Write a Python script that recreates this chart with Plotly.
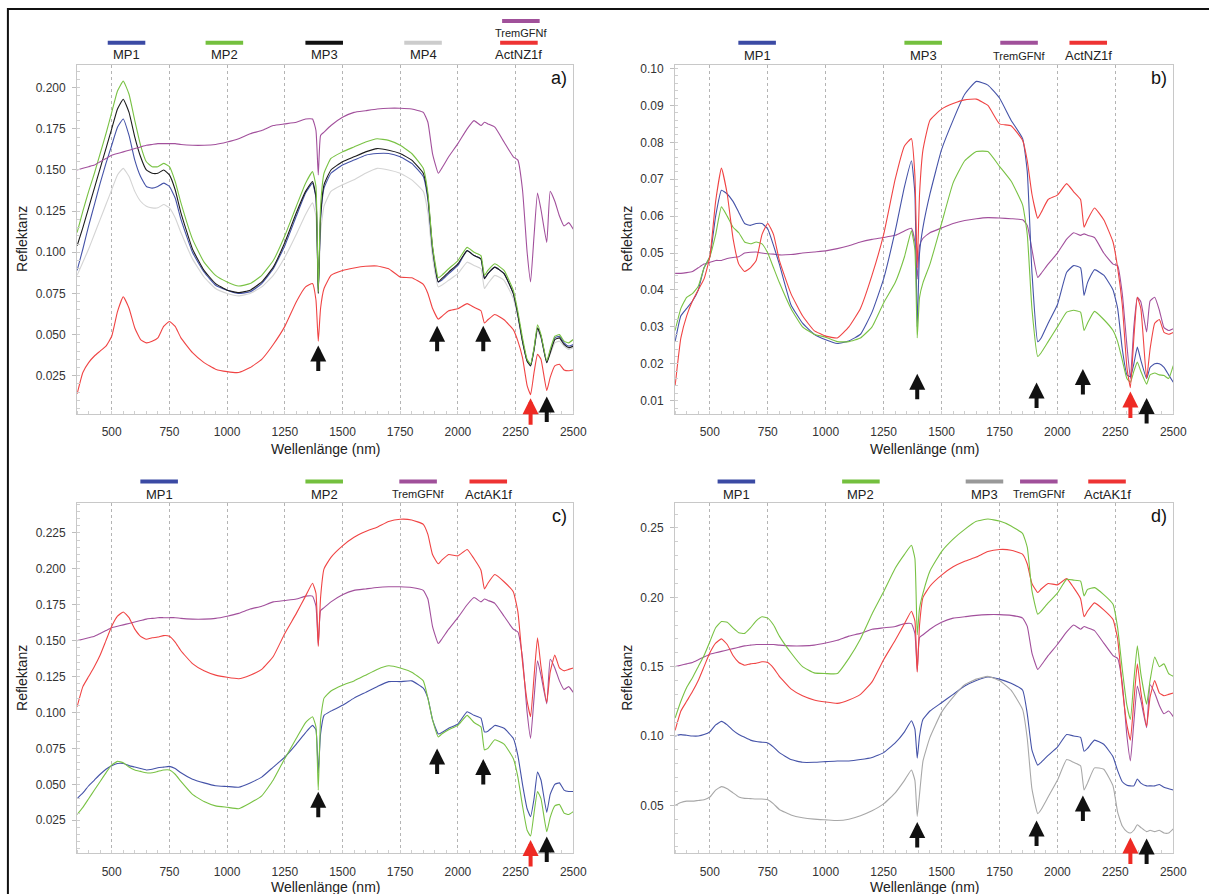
import plotly.graph_objects as go

W, H = 1209, 894

# Wavelength grid (nm) shared by all spectra
WL = [350, 375, 400, 425, 450, 475, 500, 525, 550, 575,
      600, 625, 650, 675, 700, 725, 750, 775, 800, 850,
      900, 950, 1000, 1050, 1100, 1150, 1200, 1250, 1300, 1340,
      1370, 1385, 1395, 1405, 1420, 1450, 1500, 1550, 1600, 1650,
      1700, 1750, 1800, 1850, 1870, 1890, 1915, 1930, 1960, 2000,
      2040, 2070, 2100, 2115, 2130, 2160, 2200, 2240, 2260, 2280,
      2300, 2315, 2330, 2345, 2360, 2385, 2400, 2420, 2440, 2460,
      2480, 2500]

# Reference spectra
TREM_GFNF = [0.150, 0.151, 0.152, 0.153, 0.155, 0.157, 0.159, 0.160, 0.161, 0.162,
             0.163, 0.164, 0.165, 0.1655, 0.166, 0.166, 0.166, 0.166, 0.1655, 0.165,
             0.165, 0.1655, 0.167, 0.169, 0.172, 0.174, 0.177, 0.178, 0.179, 0.181,
             0.181, 0.174, 0.147, 0.171, 0.173, 0.177, 0.182, 0.185, 0.186, 0.187,
             0.1875, 0.1875, 0.187, 0.185, 0.179, 0.160, 0.148, 0.151, 0.158, 0.166,
             0.175, 0.180, 0.177, 0.179, 0.178, 0.176, 0.167, 0.158, 0.156, 0.138,
             0.100, 0.082, 0.110, 0.136, 0.126, 0.106, 0.137, 0.131, 0.122, 0.116,
             0.118, 0.114]

ACT_NZ1F = [0.014, 0.027, 0.033, 0.037, 0.040, 0.043, 0.049, 0.064, 0.073, 0.066,
            0.054, 0.047, 0.045, 0.046, 0.048, 0.055, 0.058, 0.055, 0.048, 0.039,
            0.033, 0.029, 0.0275, 0.027, 0.030, 0.035, 0.044, 0.055, 0.070, 0.079,
            0.081, 0.071, 0.046, 0.066, 0.078, 0.086, 0.089, 0.0905, 0.0915, 0.0917,
            0.090, 0.085, 0.0845, 0.0805, 0.075, 0.066, 0.0594, 0.061, 0.0645, 0.0657,
            0.0688, 0.0666, 0.0645, 0.057, 0.059, 0.0622, 0.059, 0.053, 0.046, 0.036,
            0.019, 0.0135, 0.027, 0.038, 0.035, 0.016, 0.024, 0.031, 0.032, 0.0285,
            0.028, 0.0285]

ACT_AK1F = [0.104, 0.118, 0.125, 0.132, 0.140, 0.150, 0.160, 0.167, 0.170, 0.166,
            0.158, 0.153, 0.151, 0.152, 0.1525, 0.1535, 0.153, 0.149, 0.143, 0.134,
            0.129, 0.126, 0.1245, 0.1235, 0.126, 0.130, 0.139, 0.155, 0.169, 0.181,
            0.190, 0.183, 0.146, 0.180, 0.200, 0.208, 0.216, 0.222, 0.226, 0.229,
            0.233, 0.2345, 0.234, 0.231, 0.224, 0.210, 0.2035, 0.206, 0.210, 0.209,
            0.2135, 0.207, 0.199, 0.186, 0.190, 0.196, 0.191, 0.184, 0.170, 0.135,
            0.108, 0.097, 0.125, 0.152, 0.132, 0.107, 0.128, 0.140, 0.131, 0.129,
            0.130, 0.131]

# a) sample spectra
A_MP1 = [0.089, 0.102, 0.116, 0.129, 0.142, 0.154, 0.165, 0.176, 0.181, 0.171,
         0.156, 0.146, 0.140, 0.139, 0.140, 0.142, 0.140, 0.133, 0.120, 0.100,
         0.088, 0.080, 0.077, 0.075, 0.076, 0.081, 0.090, 0.104, 0.122, 0.136,
         0.142, 0.133, 0.076, 0.120, 0.139, 0.148, 0.153, 0.156, 0.159, 0.160,
         0.160, 0.158, 0.154, 0.146, 0.132, 0.102, 0.082, 0.083, 0.087, 0.092,
         0.101, 0.098, 0.096, 0.084, 0.087, 0.091, 0.087, 0.075, 0.062, 0.046,
         0.034, 0.031, 0.041, 0.054, 0.049, 0.033, 0.040, 0.048, 0.049, 0.045,
         0.043, 0.044]
A_MP2 = [0.112, 0.125, 0.137, 0.148, 0.160, 0.172, 0.185, 0.198, 0.204, 0.196,
         0.180, 0.165, 0.155, 0.152, 0.152, 0.154, 0.152, 0.143, 0.130, 0.108,
         0.094, 0.086, 0.082, 0.0795, 0.081, 0.086, 0.095, 0.110, 0.128, 0.142,
         0.149, 0.140, 0.076, 0.128, 0.148, 0.157, 0.161, 0.164, 0.167, 0.169,
         0.168, 0.165, 0.160, 0.151, 0.136, 0.104, 0.0845, 0.086, 0.090, 0.095,
         0.103, 0.100, 0.098, 0.086, 0.089, 0.093, 0.089, 0.077, 0.064, 0.048,
         0.035, 0.032, 0.042, 0.056, 0.050, 0.034, 0.041, 0.049, 0.050, 0.046,
         0.045, 0.047]
A_MP3 = [0.104, 0.115, 0.127, 0.139, 0.151, 0.163, 0.175, 0.187, 0.193, 0.185,
         0.170, 0.158, 0.150, 0.148, 0.148, 0.150, 0.147, 0.138, 0.124, 0.102,
         0.089, 0.081, 0.077, 0.0755, 0.077, 0.082, 0.091, 0.106, 0.124, 0.137,
         0.143, 0.134, 0.075, 0.122, 0.141, 0.150, 0.155, 0.158, 0.161, 0.163,
         0.162, 0.160, 0.156, 0.148, 0.134, 0.103, 0.082, 0.084, 0.088, 0.093,
         0.101, 0.098, 0.096, 0.084, 0.087, 0.091, 0.087, 0.075, 0.062, 0.046,
         0.034, 0.031, 0.041, 0.054, 0.049, 0.033, 0.039, 0.047, 0.048, 0.044,
         0.042, 0.043]
A_MP4 = [0.086, 0.094, 0.102, 0.111, 0.120, 0.129, 0.138, 0.147, 0.151, 0.146,
         0.137, 0.131, 0.128, 0.127, 0.127, 0.129, 0.127, 0.121, 0.112, 0.096,
         0.085, 0.078, 0.075, 0.0735, 0.075, 0.079, 0.086, 0.097, 0.111, 0.123,
         0.130, 0.122, 0.075, 0.112, 0.128, 0.137, 0.141, 0.144, 0.148, 0.151,
         0.150, 0.148, 0.144, 0.137, 0.124, 0.097, 0.079, 0.080, 0.083, 0.087,
         0.094, 0.092, 0.090, 0.078, 0.081, 0.086, 0.083, 0.072, 0.060, 0.045,
         0.034, 0.032, 0.040, 0.052, 0.048, 0.033, 0.038, 0.045, 0.046, 0.043,
         0.041, 0.042]

# b) sample spectra
B_MP1 = [0.026, 0.033, 0.035, 0.037, 0.040, 0.046, 0.049, 0.060, 0.067, 0.066,
         0.064, 0.061, 0.058, 0.0575, 0.058, 0.058, 0.0565, 0.052, 0.047, 0.036,
         0.031, 0.028, 0.0265, 0.0255, 0.0262, 0.028, 0.034, 0.043, 0.056, 0.068,
         0.075, 0.066, 0.030, 0.050, 0.057, 0.066, 0.078, 0.086, 0.093, 0.0965,
         0.0955, 0.092, 0.086, 0.081, 0.072, 0.045, 0.026, 0.027, 0.031, 0.036,
         0.0448, 0.0466, 0.046, 0.0385, 0.042, 0.0455, 0.044, 0.040, 0.035, 0.024,
         0.017, 0.0165, 0.020, 0.0245, 0.021, 0.016, 0.019, 0.020, 0.020, 0.019,
         0.017, 0.015]
B_MP3 = [0.029, 0.035, 0.038, 0.039, 0.041, 0.046, 0.049, 0.055, 0.0625, 0.060,
         0.057, 0.0555, 0.053, 0.0525, 0.053, 0.0525, 0.050, 0.046, 0.042, 0.035,
         0.030, 0.028, 0.0272, 0.026, 0.026, 0.027, 0.030, 0.0365, 0.042, 0.049,
         0.056, 0.051, 0.027, 0.038, 0.042, 0.047, 0.058, 0.069, 0.075, 0.0775,
         0.0775, 0.0735, 0.0695, 0.063, 0.055, 0.035, 0.022, 0.023, 0.026, 0.030,
         0.034, 0.0345, 0.034, 0.029, 0.031, 0.0342, 0.032, 0.029, 0.026, 0.021,
         0.016, 0.015, 0.018, 0.0205, 0.018, 0.0145, 0.017, 0.0175, 0.017, 0.0168,
         0.016, 0.0195]
B_TREM = [0.0445, 0.0445, 0.0447, 0.045, 0.046, 0.047, 0.0475, 0.048, 0.048, 0.0485,
          0.0488, 0.049, 0.050, 0.0502, 0.0503, 0.050, 0.0498, 0.0497, 0.0495, 0.0496,
          0.050, 0.0503, 0.0506, 0.0512, 0.052, 0.053, 0.0537, 0.0542, 0.0548, 0.056,
          0.0567, 0.053, 0.043, 0.052, 0.054, 0.0555, 0.0568, 0.058, 0.0588, 0.0593,
          0.0596, 0.0595, 0.0593, 0.059, 0.0575, 0.051, 0.0434, 0.0445, 0.047, 0.050,
          0.0538, 0.0555, 0.0548, 0.0552, 0.0548, 0.0542, 0.050, 0.047, 0.0466, 0.039,
          0.025, 0.016, 0.030, 0.038, 0.0368, 0.0286, 0.037, 0.038, 0.0345, 0.0298,
          0.029, 0.0295]

# c) sample spectra
C_MP1 = [0.040, 0.044, 0.049, 0.053, 0.057, 0.0605, 0.063, 0.0645, 0.0645, 0.063,
         0.062, 0.061, 0.060, 0.0605, 0.0615, 0.062, 0.0625, 0.061, 0.058, 0.0535,
         0.051, 0.049, 0.0485, 0.048, 0.051, 0.055, 0.062, 0.069, 0.078, 0.086,
         0.091, 0.088, 0.058, 0.085, 0.098, 0.101, 0.105, 0.110, 0.114, 0.118,
         0.1215, 0.1215, 0.122, 0.117, 0.110, 0.095, 0.085, 0.086, 0.089, 0.092,
         0.1005, 0.098, 0.096, 0.0865, 0.087, 0.091, 0.089, 0.082, 0.070, 0.050,
         0.033, 0.0275, 0.040, 0.0585, 0.053, 0.0305, 0.043, 0.050, 0.051, 0.046,
         0.045, 0.045]
C_MP2 = [0.029, 0.034, 0.040, 0.046, 0.052, 0.058, 0.0635, 0.066, 0.065, 0.062,
         0.060, 0.059, 0.058, 0.058, 0.059, 0.060, 0.060, 0.057, 0.052, 0.043,
         0.038, 0.035, 0.034, 0.033, 0.037, 0.042, 0.053, 0.068, 0.082, 0.093,
         0.097, 0.090, 0.046, 0.095, 0.110, 0.115, 0.119, 0.122, 0.126, 0.130,
         0.1325, 0.131, 0.128, 0.122, 0.110, 0.095, 0.083, 0.085, 0.088, 0.091,
         0.098, 0.093, 0.090, 0.074, 0.075, 0.081, 0.078, 0.068, 0.055, 0.035,
         0.018, 0.014, 0.030, 0.045, 0.040, 0.017, 0.027, 0.035, 0.036, 0.030,
         0.029, 0.031]

# d) sample spectra
D_MP1 = [0.100, 0.101, 0.1005, 0.100, 0.100, 0.101, 0.103, 0.108, 0.1105, 0.108,
         0.104, 0.101, 0.099, 0.097, 0.096, 0.0955, 0.095, 0.092, 0.088, 0.083,
         0.081, 0.081, 0.0815, 0.082, 0.082, 0.083, 0.0845, 0.088, 0.095, 0.103,
         0.111, 0.105, 0.084, 0.100, 0.112, 0.118, 0.124, 0.130, 0.136, 0.140,
         0.1425, 0.141, 0.138, 0.133, 0.116, 0.090, 0.079, 0.081, 0.086, 0.092,
         0.101, 0.100, 0.099, 0.089, 0.091, 0.097, 0.094, 0.085, 0.075, 0.067,
         0.0645, 0.064, 0.064, 0.069, 0.066, 0.064, 0.064, 0.064, 0.065, 0.063,
         0.062, 0.061]
D_MP2 = [0.113, 0.125, 0.135, 0.142, 0.150, 0.158, 0.168, 0.178, 0.1825, 0.182,
         0.178, 0.1745, 0.174, 0.178, 0.183, 0.186, 0.185, 0.180, 0.172, 0.160,
         0.150, 0.1455, 0.145, 0.145, 0.156, 0.170, 0.188, 0.204, 0.221, 0.231,
         0.2375, 0.228, 0.173, 0.192, 0.203, 0.219, 0.233, 0.242, 0.249, 0.2548,
         0.2565, 0.255, 0.2515, 0.246, 0.236, 0.205, 0.1878, 0.190, 0.196, 0.203,
         0.213, 0.2124, 0.2117, 0.201, 0.2057, 0.207, 0.202, 0.195, 0.178, 0.148,
         0.122, 0.112, 0.140, 0.165, 0.145, 0.123, 0.140, 0.157, 0.150, 0.152,
         0.145, 0.143]
D_MP3 = [0.050, 0.052, 0.053, 0.053, 0.0535, 0.054, 0.056, 0.061, 0.0635, 0.062,
         0.059, 0.056, 0.055, 0.0548, 0.0545, 0.0545, 0.054, 0.051, 0.047, 0.043,
         0.041, 0.040, 0.0395, 0.039, 0.040, 0.0425, 0.046, 0.051, 0.059, 0.068,
         0.0755, 0.068, 0.042, 0.058, 0.082, 0.099, 0.117, 0.128, 0.137, 0.141,
         0.143, 0.140, 0.133, 0.119, 0.098, 0.062, 0.044, 0.047, 0.056, 0.068,
         0.083, 0.081, 0.0785, 0.061, 0.066, 0.077, 0.076, 0.064, 0.045, 0.035,
         0.031, 0.030, 0.032, 0.036, 0.034, 0.031, 0.032, 0.031, 0.032, 0.030,
         0.030, 0.033]

# absorption features marked with arrows (nm)
FEATURES_BLACK = [1395, 1910, 2110, 2385]
FEATURE_RED = 2315

X_TICKS = [500, 750, 1000, 1250, 1500, 1750, 2000, 2250, 2500]

# colours
BLUE, GREEN, BLACK = "#4553a8", "#79c244", "#1c1c1c"
LGRAY, MGRAY = "#d4d4d4", "#a8a8a8"
PURPLE, RED = "#a2509c", "#f04444"
FONT = "Liberation Sans, Arial, sans-serif"

# panel boxes in pixels: (left, right, top, bottom), x-title row
PANELS = {
    "a": dict(box=(78, 580, 62, 412), yr=(0.0020, 0.2139), dt=0.025, fmt=".3f",
              ax=("x", "y"), title_y=448),
    "b": dict(box=(683, 1187, 62, 412), yr=(0.0065, 0.1010), dt=0.01, fmt=".2f",
              ax=("x2", "y2"), title_y=448),
    "c": dict(box=(78, 580, 502, 853), yr=(0.0021, 0.2456), dt=0.025, fmt=".3f",
              ax=("x3", "y3"), title_y=887),
    "d": dict(box=(683, 1187, 502, 853), yr=(0.0155, 0.2678), dt=0.05, fmt=".2f",
              ax=("x4", "y4"), title_y=887),
}

SERIES = {
    "a": [("MP4", A_MP4, LGRAY), ("MP1", A_MP1, BLUE), ("MP3", A_MP3, BLACK),
          ("MP2", A_MP2, GREEN), ("TremGFNf", TREM_GFNF, PURPLE), ("ActNZ1f", ACT_NZ1F, RED)],
    "b": [("TremGFNf", B_TREM, PURPLE), ("MP1", B_MP1, BLUE), ("MP3", B_MP3, GREEN),
          ("ActNZ1f", ACT_NZ1F, RED)],
    "c": [("TremGFNf", TREM_GFNF, PURPLE), ("ActAK1f", ACT_AK1F, RED),
          ("MP1", C_MP1, BLUE), ("MP2", C_MP2, GREEN)],
    "d": [("TremGFNf", TREM_GFNF, PURPLE), ("ActAK1f", ACT_AK1F, RED), ("MP2", D_MP2, GREEN),
          ("MP1", D_MP1, BLUE), ("MP3", D_MP3, MGRAY)],
}

# legend keys: (label, colour, centre x px, bar y px, label y px, font size)
LEGENDS = {
    "a": [("MP1", "#3b4aa4", 128, 40, 52, 13), ("MP2", "#74c03e", 227, 40, 52, 13),
          ("MP3", "#111111", 328, 40, 52, 13), ("MP4", "#cccccc", 428, 40, 52, 13),
          ("TremGFNf", "#a0509a", 527, 18, 30, 11), ("ActNZ1f", "#ee3333", 525, 40, 52, 13)],
    "b": [("MP1", "#3b4aa4", 766, 40, 53, 13), ("MP3", "#74c03e", 934, 40, 53, 13),
          ("TremGFNf", "#a0509a", 1031, 40, 53, 11), ("ActNZ1f", "#ee3333", 1101, 40, 53, 13)],
    "c": [("MP1", "#3b4aa4", 161, 480, 493, 13), ("MP2", "#74c03e", 328, 480, 493, 13),
          ("TremGFNf", "#a0509a", 423, 480, 493, 11), ("ActAK1f", "#ee3333", 494, 480, 493, 13)],
    "d": [("MP1", "#3b4aa4", 745, 480, 493, 13), ("MP2", "#74c03e", 871, 480, 493, 13),
          ("MP3", "#999999", 996, 480, 493, 13), ("TremGFNf", "#a0509a", 1051, 480, 493, 11),
          ("ActAK1f", "#ee3333", 1120, 480, 493, 13)],
}

# arrow tips (reflectance) per panel: black features, then the red one
ARROW_TIPS = {
    "a": ([0.0434, 0.0554, 0.0554, 0.0124], 0.0114),
    "b": ([0.0173, 0.0149, 0.0186, 0.0107], 0.0125),
    "c": ([0.0449, 0.0750, 0.0676, 0.0137], 0.0113),
    "d": ([0.0380, 0.0390, 0.0570, 0.0260], 0.0267),
}


def fx(p):
    return p / W


def fy(p):
    return 1 - p / H


fig = go.Figure()
layout = dict(width=W, height=H, margin=dict(l=0, r=0, t=0, b=0),
              paper_bgcolor="white", plot_bgcolor="white", showlegend=False,
              font=dict(family=FONT, color="#333"))
annotations, shapes = [], []

for key, p in PANELS.items():
    l, r, t, b = p["box"]
    xa, ya = p["ax"]
    xname = "xaxis" + xa[1:]
    yname = "yaxis" + ya[1:]
    y0, y1 = p["yr"]
    first = y0 - (y0 % p["dt"]) + p["dt"]
    yt = []
    v = round(first, 4)
    while v <= y1:
        yt.append(round(v, 4))
        v = round(v + p["dt"], 4)
    layout[xname] = dict(domain=[fx(l), fx(r)], range=[350, 2500], anchor=ya,
                         showline=True, mirror=True, linecolor="#c8c8c8", linewidth=1,
                         showgrid=True, gridcolor="#b4b4b4", griddash="dot", gridwidth=1,
                         tickvals=X_TICKS, ticks="", zeroline=False, ticklabelstandoff=7,
                         tickfont=dict(size=12, color="#333"),
                         minor=dict(ticks="inside", ticklen=3, tickcolor="#cfcfcf",
                                    dtick=50, tick0=0, showgrid=False))
    layout[yname] = dict(domain=[fy(b), fy(t)], range=[y0, y1], anchor=xa,
                         showline=True, mirror=True, linecolor="#c8c8c8", linewidth=1,
                         showgrid=False, zeroline=False, tickvals=yt, tickformat=p["fmt"],
                         ticks="outside", ticklen=4, tickcolor="#bdbdbd", ticklabelstandoff=4,
                         tickfont=dict(size=12, color="#333"),
                         minor=dict(ticks="inside", ticklen=3, tickcolor="#cfcfcf",
                                    dtick=p["dt"] / 5, tick0=0, showgrid=False))

    for name, vals, col in SERIES[key]:
        fig.add_trace(go.Scatter(x=WL, y=vals, mode="lines", name=name,
                                 line=dict(color=col, width=1.1, shape="spline", smoothing=0.4),
                                 xaxis=xa, yaxis=ya, hoverinfo="skip"))

    # axis titles
    annotations.append(dict(text="Wellenlänge (nm)", xref="paper", yref="paper",
                            x=fx((l + r) / 2), y=fy(p["title_y"]), showarrow=False,
                            xanchor="center", yanchor="middle",
                            font=dict(size=14, color="#222")))
    annotations.append(dict(text="Reflektanz", xref="paper", yref="paper",
                            x=fx(22 if l < 300 else 635), y=fy((t + b) / 2),
                            showarrow=False, textangle=-90,
                            xanchor="center", yanchor="middle",
                            font=dict(size=14, color="#222")))
    # panel letter
    annotations.append(dict(text=key + ")", xref="paper", yref="paper",
                            x=fx(r - 4), y=fy(t + 13), showarrow=False,
                            xanchor="right", yanchor="middle",
                            font=dict(size=18, color="#111")))

    # legend keys
    for label, col, cx, by, ly, fs in LEGENDS[key]:
        shapes.append(dict(type="line", xref="paper", yref="paper",
                           x0=fx(cx - 19), x1=fx(cx + 19), y0=fy(by), y1=fy(by),
                           line=dict(color=col, width=4)))
        annotations.append(dict(text=label, xref="paper", yref="paper",
                                x=fx(cx), y=fy(ly), showarrow=False,
                                xanchor="center", yanchor="middle",
                                font=dict(size=fs, color="#222")))

    # feature arrows
    tips, red_tip = ARROW_TIPS[key]
    for wl, tip in zip(FEATURES_BLACK, tips):
        annotations.append(dict(x=wl, y=tip, xref=xa, yref=ya, text="", showarrow=True,
                                ax=0, ay=27, arrowhead=2, arrowsize=0.8, arrowwidth=4,
                                arrowcolor="#111", standoff=0))
    annotations.append(dict(x=FEATURE_RED, y=red_tip, xref=xa, yref=ya, text="",
                            showarrow=True, ax=0, ay=28, arrowhead=2, arrowsize=0.8,
                            arrowwidth=4, arrowcolor="#ee2a24", standoff=0))

# outer frame
shapes.append(dict(type="rect", xref="paper", yref="paper",
                   x0=fx(8), x1=1.02, y0=-0.02, y1=fy(6),
                   line=dict(color="#111", width=2)))

layout["annotations"] = annotations
layout["shapes"] = shapes
fig.update_layout(**layout)
fig.write_html("out.html")
